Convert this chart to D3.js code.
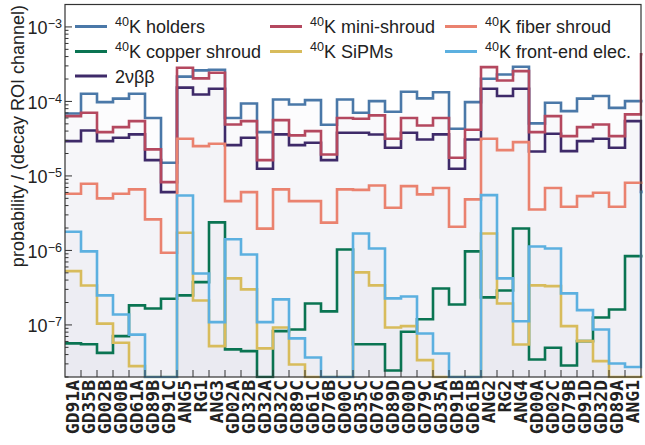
<!DOCTYPE html>
<html>
<head>
<meta charset="utf-8">
<script src="https://cdn.jsdelivr.net/npm/d3@7/dist/d3.min.js"></script>
<style>
  body { margin: 0; background: #fff; }
  svg text { font-family: "Liberation Sans", Arial, sans-serif; fill: #222; }
</style>
</head>
<body>
<svg id="plot" width="645" height="445"></svg>
<script>
// detector channels, in plotting order
const channels = ["GD91A", "GD35B", "GD02B", "GD00B", "GD61A", "GD89B", "GD91C", "ANG5", "RG1", "ANG3",
  "GD02A", "GD32B", "GD32A", "GD32C", "GD89C", "GD61C", "GD76B", "GD00C", "GD35C", "GD76C",
  "GD89D", "GD00D", "GD79C", "GD35A", "GD91B", "GD61B", "ANG2", "RG2", "ANG4", "GD00A",
  "GD02C", "GD79B", "GD91D", "GD32D", "GD89A", "ANG1"];

// probability per channel; 0 = below the axis.
// the last entry of each array is the bin just past the right edge (clipped away)
const k40Holders = [6.9e-5, 1.27e-4, 9.8e-5, 1.09e-4, 1.27e-4, 6.0e-5, 1.5e-5, 2.15e-4, 2.61e-4, 2.66e-4,
  6.0e-5, 9.4e-5, 3.87e-5, 1.06e-4, 9.1e-5, 1.04e-4, 4.87e-5, 1.06e-4, 7.05e-5, 1.01e-4,
  7.28e-5, 1.35e-4, 1.1e-4, 1.33e-4, 4.3e-5, 9.8e-5, 2.02e-4, 2.3e-4, 2.92e-4, 5.07e-5,
  9.6e-5, 7.4e-5, 1.09e-4, 1.18e-4, 8.2e-5, 1.01e-4, 1.01e-4];
const k40CopperShroud = [5.65e-8, 5.5e-8, 4.21e-8, 7.08e-8, 1.83e-7, 1.66e-7, 2.25e-7, 2.49e-7, 3.75e-7, 2.38e-6,
  4.69e-8, 4.45e-8, 0, 8.26e-8, 8.7e-8, 1.94e-7, 1.52e-7, 1.03e-6, 5.5e-8, 5.5e-8,
  2.45e-8, 8.1e-8, 1.19e-7, 3.09e-7, 1.88e-7, 9.7e-7, 2.34e-7, 2.9e-7, 1.97e-6, 3.44e-8,
  4.94e-8, 2.86e-8, 6.07e-8, 1.26e-7, 1.61e-7, 8.39e-7, 8.39e-7];
const twoNuBB = [2.93e-5, 4.08e-5, 2.93e-5, 3.26e-5, 3.61e-5, 1.63e-5, 6.07e-6, 1.53e-4, 1.24e-4, 1.48e-4,
  2.59e-5, 3.26e-5, 1.25e-5, 3.61e-5, 2.59e-5, 2.79e-5, 1.63e-5, 3.8e-5, 3.8e-5, 3.6e-5,
  2.39e-5, 3.8e-5, 3.09e-5, 3.61e-5, 1.25e-5, 3.09e-5, 1.48e-4, 1.18e-4, 1.48e-4, 2.13e-5,
  3.68e-5, 2.15e-5, 2.93e-5, 3.16e-5, 2.39e-5, 5.44e-5, 6.1e-6];
const k40MiniShroud = [6.35e-5, 7.05e-5, 3.87e-5, 4.52e-5, 5.44e-5, 2.27e-5, 8.26e-6, 2.83e-4, 2.04e-4, 2.43e-4,
  4.91e-5, 5.44e-5, 1.63e-5, 5.61e-5, 3.5e-5, 3.99e-5, 1.94e-5, 6.0e-5, 5.86e-5, 6.49e-5,
  3.16e-5, 6.0e-5, 4.76e-5, 6.0e-5, 1.75e-5, 4.17e-5, 2.89e-4, 1.91e-4, 2.55e-4, 3.87e-5,
  6.35e-5, 3.42e-5, 4.52e-5, 4.91e-5, 3.42e-5, 6.7e-5, 4.3e-4];
const k40SiPMs = [5.27e-7, 3.39e-7, 1.04e-7, 5.77e-8, 2.8e-8, 0, 0, 1.73e-6, 2.13e-7, 5.19e-8,
  4.21e-7, 3.0e-7, 4.84e-8, 9.25e-8, 2.95e-8, 0, 0, 0, 5.07e-7, 3.4e-7,
  9.25e-8, 9.64e-8, 3.37e-8, 0, 0, 0, 1.69e-6, 1.94e-7, 5.47e-8, 3.4e-7,
  3.32e-7, 9.64e-8, 6.07e-8, 3.27e-8, 0, 0, 0];
const k40FiberShroud = [5.77e-6, 7.86e-6, 4.99e-6, 5.77e-6, 6.59e-6, 2.61e-6, 9.3e-7, 3.16e-5, 2.51e-5, 2.7e-5,
  4.59e-6, 6.07e-6, 1.96e-6, 6.59e-6, 4.59e-6, 4.59e-6, 2.36e-6, 6.59e-6, 6.5e-6, 7.45e-6,
  3.74e-6, 7.3e-6, 5.65e-6, 6.9e-6, 2.08e-6, 4.84e-6, 3.16e-5, 2.22e-5, 2.84e-5, 3.55e-6,
  6.9e-6, 3.86e-6, 5.36e-6, 5.95e-6, 3.86e-6, 8.1e-6, 8.1e-6];
const k40FrontEnd = [1.78e-6, 9.7e-7, 2.49e-7, 1.38e-7, 7.4e-8, 0, 0, 5.47e-6, 4.91e-7, 1.09e-7,
  1.41e-6, 8.83e-7, 1.09e-7, 2.2e-7, 6.59e-8, 3.66e-8, 0, 0, 1.69e-6, 1.06e-6,
  2.27e-7, 2.41e-7, 7.69e-8, 4.14e-8, 0, 0, 5.52e-6, 4.21e-7, 1.12e-7, 1.13e-6,
  1.06e-6, 2.65e-7, 1.58e-7, 8.7e-8, 3.04e-8, 2.72e-8, 6.1e-6];

// series in drawing order, legend slot = [column, row]
const series = [
  { label: "holders", k40: true, values: k40Holders, color: "#4a78a8", slot: [0, 0] },
  { label: "copper shroud", k40: true, values: k40CopperShroud, color: "#0a7452", slot: [0, 1] },
  { label: "2νββ", k40: false, values: twoNuBB, color: "#3e2a69", slot: [0, 2] },
  { label: "mini-shroud", k40: true, values: k40MiniShroud, color: "#b4485f", slot: [1, 0] },
  { label: "SiPMs", k40: true, values: k40SiPMs, color: "#d8bc5c", slot: [1, 1] },
  { label: "fiber shroud", k40: true, values: k40FiberShroud, color: "#ea826f", slot: [2, 0] },
  { label: "front-end elec.", k40: true, values: k40FrontEnd, color: "#5cb0e0", slot: [2, 1] }
];

function drawChart() {
  const svg = d3.select("#plot");
  const margin = { top: 4.5, left: 65 };
  const width = 576, height = 372.5;
  const yMin = 2e-8, yMax = 2e-3;

  const x = d3.scaleLinear().domain([0, channels.length]).range([margin.left, margin.left + width]);
  const y = d3.scaleLog().domain([yMin, yMax]).range([margin.top + height, margin.top]);
  const yv = v => (v > yMin ? y(v) : y(yMin)); // empty bins sit on the bottom edge

  svg.append("clipPath").attr("id", "clip")
    .append("rect")
    .attr("x", margin.left).attr("y", margin.top)
    .attr("width", width + 1.5).attr("height", height + 1.5);

  const plot = svg.append("g").attr("clip-path", "url(#clip)");

  // step histograms: one point per bin edge
  const toSteps = vals => vals.map((v, i) => [i, v]).concat([[vals.length, vals[vals.length - 1]]]);
  const area = d3.area().curve(d3.curveStepAfter)
    .x(d => x(d[0])).y0(y(yMin)).y1(d => yv(d[1]));
  const line = d3.line().curve(d3.curveStepAfter)
    .x(d => x(d[0])).y(d => yv(d[1]));

  series.forEach(s => {
    plot.append("path").attr("d", area(toSteps(s.values)))
      .attr("fill", "#86869a").attr("fill-opacity", 0.025);
  });
  series.forEach(s => {
    plot.append("path").attr("d", line(toSteps(s.values)))
      .attr("fill", "none").attr("stroke", s.color).attr("stroke-width", 2.6);
  });

  // frame
  svg.append("rect")
    .attr("x", margin.left).attr("y", margin.top)
    .attr("width", width).attr("height", height)
    .attr("fill", "none").attr("stroke", "#333").attr("stroke-width", 1.2);

  // y ticks, pointing inward
  const axis = svg.append("g").attr("stroke", "#333").attr("stroke-width", 1);
  for (let e = -8; e <= -3; e++) {
    for (let m = 1; m <= 9; m++) {
      const v = m * Math.pow(10, e);
      if (v < yMin || v > yMax) continue;
      const len = m === 1 ? 7 : 3.5;
      axis.append("line")
        .attr("x1", margin.left).attr("x2", margin.left + len)
        .attr("y1", y(v)).attr("y2", y(v));
    }
  }
  [-7, -6, -5, -4, -3].forEach(e => {
    const t = svg.append("text")
      .attr("x", 62).attr("y", y(Math.pow(10, e)) + 7.5)
      .attr("text-anchor", "end").attr("font-size", 18);
    t.append("tspan").text("10");
    t.append("tspan").attr("dy", -6).attr("font-size", 12.6).text("−" + (-e));
  });

  // x ticks on bin edges, labels on bin centres
  for (let i = 1; i < channels.length; i++) {
    axis.append("line")
      .attr("x1", x(i)).attr("x2", x(i))
      .attr("y1", margin.top + height).attr("y2", margin.top + height - 7);
  }
  channels.forEach((c, i) => {
    const cx = x(i + 0.5);
    svg.append("text")
      .attr("transform", `translate(${cx},380) rotate(-90)`)
      .attr("dy", "0.36em")
      .attr("text-anchor", "end")
      .style("font-family", "'DejaVu Sans Mono', monospace")
      .attr("font-weight", "bold")
      .attr("font-size", 18)
      .text(c);
  });

  svg.append("text")
    .attr("transform", "translate(24,5) rotate(-90)")
    .attr("text-anchor", "end")
    .attr("font-size", 18)
    .text("probability / (decay ROI channel)");

  // legend, three columns
  const colX = [75, 270, 445];
  const rowY = [26.5, 51.5, 76];
  series.forEach(s => {
    const lx = colX[s.slot[0]], ly = rowY[s.slot[1]];
    svg.append("line")
      .attr("x1", lx).attr("x2", lx + 32).attr("y1", ly).attr("y2", ly)
      .attr("stroke", s.color).attr("stroke-width", 3);
    const t = svg.append("text").attr("x", lx + 40).attr("y", ly + 6.5).attr("font-size", 18);
    if (s.k40) {
      t.append("tspan").attr("font-size", 12.6).attr("dy", -7).text("40");
      t.append("tspan").attr("dy", 7).text("K " + s.label);
    } else {
      t.text(s.label);
    }
  });
}

drawChart();
</script>
</body>
</html>
